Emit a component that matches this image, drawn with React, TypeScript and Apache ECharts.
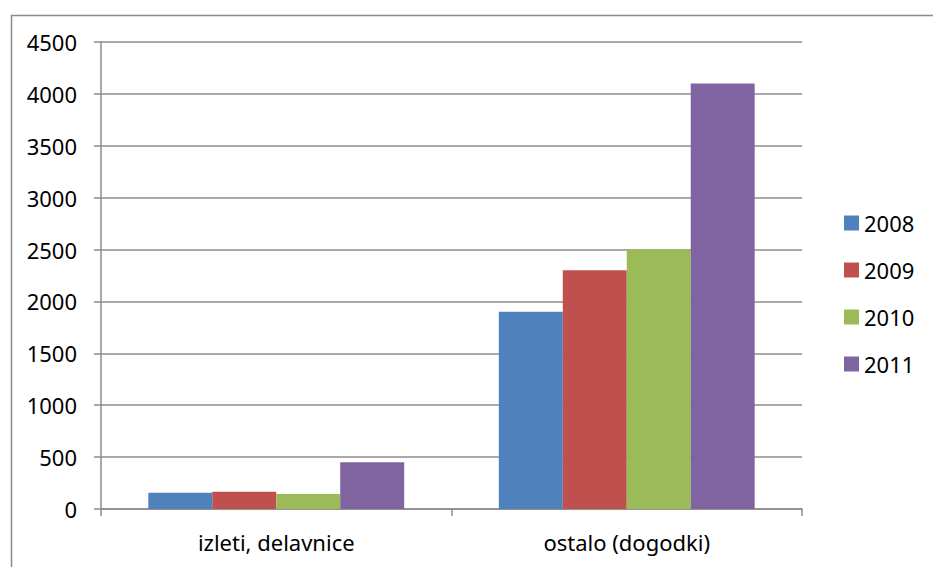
import React, { useEffect, useRef } from "react";
import * as echarts from "echarts";

const categories = ["izleti, delavnice", "ostalo (dogodki)"];
const seriesNames = ["2008", "2009", "2010", "2011"];
const values2008 = [157, 1900];
const values2009 = [167, 2300];
const values2010 = [145, 2500];
const values2011 = [450, 4100];
const colors = ["#4F81BD", "#C0504D", "#9BBB59", "#8064A2"];

const FONT = "Noto Sans";

export default function App() {
  const ref = useRef<HTMLDivElement>(null);

  useEffect(() => {
    if (!ref.current) return;
    const chart = echarts.init(ref.current, undefined, { renderer: "svg" });
    const seriesData = [values2008, values2009, values2010, values2011];
    chart.setOption({
      animation: false,
      backgroundColor: "#ffffff",
      textStyle: { fontFamily: FONT },
      graphic: [
        {
          type: "rect",
          left: 9,
          top: 13,
          shape: { width: 1000, height: 1000 },
          style: { fill: "none", stroke: "#8c8c8c", lineWidth: 1.5 },
          silent: true,
        },
      ],
      grid: { left: 101, right: 131, top: 42, bottom: 58 },
      legend: {
        orient: "vertical",
        left: 844,
        top: 212,
        padding: 0,
        itemGap: 25,
        itemWidth: 15,
        itemHeight: 15,
        icon: "rect",
        textStyle: { fontFamily: FONT, fontSize: 22, color: "#000" },
        data: seriesNames,
      },
      xAxis: {
        type: "category",
        data: categories,
        axisLine: { show: true, lineStyle: { color: "#8c8c8c", width: 1.5 } },
        axisTick: { show: true, alignWithLabel: false, length: 7, lineStyle: { color: "#8c8c8c", width: 1.5 } },
        axisLabel: { fontFamily: FONT, fontSize: 22, color: "#000", margin: 22 },
      },
      yAxis: {
        type: "value",
        min: 0,
        max: 4500,
        interval: 500,
        axisLine: { show: true, lineStyle: { color: "#8c8c8c", width: 1.5 } },
        axisTick: { show: true, length: 7, lineStyle: { color: "#8c8c8c", width: 1.5 } },
        splitLine: { show: true, lineStyle: { color: "#8c8c8c", width: 1.5 } },
        axisLabel: {
          fontFamily: FONT,
          fontSize: 22,
          color: "#000",
          margin: 24,
          formatter: (v: number) => String(v),
        },
      },
      series: seriesNames.map((name, i) => ({
        name,
        type: "bar",
        data: seriesData[i],
        barGap: "0%",
        barCategoryGap: "27%",
        itemStyle: { color: colors[i] },
      })),
    });
    return () => chart.dispose();
  }, []);

  return (
    <div
      ref={ref}
      style={{ position: "absolute", left: 0, top: 0, width: 933, height: 567 }}
    />
  );
}
